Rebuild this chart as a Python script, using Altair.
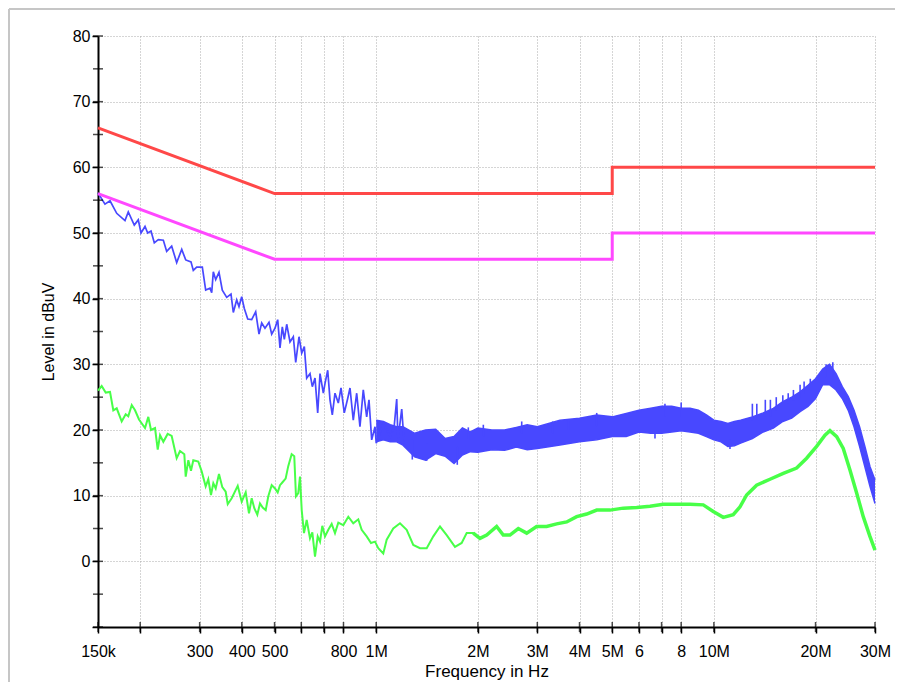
import altair as alt
import pandas as pd

# ---------------- data (frequency in MHz, level in dBuV) ----------------
# Peak trace (blue), 150 kHz .. ~1.2 MHz, read point by point
peak_freq = [0.150, 0.1573, 0.1628, 0.1704, 0.1803, 0.1844, 0.1921, 0.1974, 0.2011, 0.2067,
             0.2105, 0.2153, 0.2202, 0.2263, 0.2342, 0.2396, 0.2479, 0.2565, 0.2655, 0.2728,
             0.2828, 0.2873, 0.2940, 0.3055, 0.3126, 0.3220, 0.3257, 0.3293, 0.3347, 0.3423,
             0.3501, 0.3608, 0.3715, 0.3774, 0.3862, 0.3923, 0.3996, 0.4068, 0.4164, 0.4278,
             0.4396, 0.4497, 0.4580, 0.4684, 0.4814, 0.4903, 0.5015, 0.5108, 0.5189, 0.5271,
             0.5344, 0.5432, 0.5555, 0.5682, 0.5776, 0.5907, 0.6017, 0.6125, 0.6225, 0.6367,
             0.6468, 0.6588, 0.6710, 0.6817, 0.6972, 0.7053, 0.7184, 0.7297, 0.7412, 0.7550,
             0.7722, 0.7866, 0.8043, 0.8233, 0.8363, 0.8552, 0.8754, 0.8951, 0.9156, 0.9371,
             0.9519, 0.9696, 0.9918, 1.00, 1.05, 1.10, 1.13, 1.15, 1.16, 1.19, 1.21]
peak_db = [56.1, 54.4, 54.9, 53.0, 51.9, 53.2, 51.2, 52.0, 50.0, 51.0,
           50.0, 50.3, 48.5, 49.0, 48.9, 47.2, 48.0, 45.5, 47.5, 45.9,
           45.6, 44.3, 44.8, 44.8, 41.3, 41.6, 40.9, 44.1, 42.9, 44.0,
           41.3, 40.2, 40.7, 37.9, 39.8, 38.8, 40.3, 38.5, 36.9, 36.8,
           38.0, 34.6, 36.3, 35.5, 36.4, 34.6, 35.5, 36.8, 32.5, 35.7,
           33.8, 36.1, 33.4, 34.2, 30.3, 34.2, 31.7, 32.7, 27.9, 28.6,
           26.6, 27.9, 22.6, 28.6, 25.6, 27.1, 29.1, 24.6, 22.3, 25.6,
           24.1, 26.4, 22.6, 24.8, 26.4, 21.5, 25.6, 20.5, 26.1, 22.0,
           24.6, 18.5, 20.5, 18.0, 21.0, 19.0, 20.5, 24.7, 18.5, 23.2, 18.0]

# Peak trace (blue) above 1 MHz: dense noise band, upper and lower edges
band_freq = [1.0, 1.05, 1.1, 1.15, 1.2, 1.3, 1.4, 1.5, 1.6, 1.7, 1.8, 1.9, 2.0, 2.2, 2.4,
             2.6, 2.8, 3.0, 3.5, 4.0, 4.5, 5.0, 5.5, 6.0, 6.5, 7.0, 7.5, 8.0, 8.5, 9.0,
             9.5, 10, 10.5, 11, 11.5, 12, 13, 14, 15, 16, 17, 18, 19, 20, 21, 22, 23,
             24, 25, 26, 27, 28, 29, 30]
band_hi = [21.5, 21.3, 20.8, 20.5, 20.5, 19.5, 20.0, 20.1, 18.7, 19.0, 20.3, 19.7, 20.3, 20.0, 20.0,
           20.4, 20.8, 20.5, 21.5, 21.8, 22.3, 22.0, 22.5, 23.0, 23.3, 23.6, 23.6, 23.3, 23.3, 23.0,
           22.3, 21.5, 21.3, 21.0, 21.3, 21.5, 22.0, 22.6, 23.3, 24.3, 25.0, 25.8, 26.8, 27.8, 29.3,
           30.0, 28.6, 26.6, 25.1, 23.0, 20.5, 17.5, 14.4, 12.4]
band_lo = [18.2, 18.5, 18.2, 18.2, 17.7, 15.9, 15.4, 16.4, 16.0, 14.9, 16.2, 16.7, 16.6, 17.0, 16.9,
           17.4, 17.0, 17.2, 17.7, 18.2, 18.5, 19.0, 19.0, 19.7, 19.5, 19.5, 19.7, 19.9, 19.7, 19.5,
           19.0, 18.5, 18.2, 17.5, 17.6, 18.0, 18.7, 19.7, 20.3, 21.3, 21.8, 22.8, 23.6, 24.8, 26.9,
           26.9, 26.1, 24.8, 23.0, 20.5, 17.5, 14.4, 11.4, 8.8]

# Single noise spikes that stick out of the band: frequency, start level, end level
spike_freq = [1.279, 1.411, 1.738, 1.874, 2.076, 2.697, 3.332, 3.705, 4.498, 6.692,
              7.163, 8.0, 11.16, 13.0, 13.4, 14.2, 14.7, 15.3, 16.0, 16.6,
              17.2, 18.0, 18.5, 19.3, 21.5, 22.5]
spike_from = [18.5, 18.0, 17.5, 18.5, 19.0, 19.5, 19.5, 20.0, 20.5, 20.0,
              22.0, 22.0, 18.5, 21.5, 21.5, 22.0, 22.0, 23.0, 23.5, 24.0,
              24.5, 25.0, 25.5, 26.0, 28.0, 28.0]
spike_to = [15.5, 15.3, 14.7, 20.4, 20.8, 21.3, 21.3, 21.5, 22.6, 18.7,
            24.0, 24.2, 17.1, 24.0, 24.0, 24.6, 24.6, 25.0, 25.3, 25.6,
            26.1, 26.9, 27.4, 27.8, 30.0, 30.3]

# Average trace (green)
avg_freq = [0.150, 0.1538, 0.1581, 0.1628, 0.1665, 0.1704, 0.1763, 0.1812, 0.1844, 0.1888,
            0.1931, 0.1984, 0.2067, 0.2114, 0.2153, 0.2213, 0.2254, 0.2290, 0.2342, 0.2412,
            0.2479, 0.2565, 0.2624, 0.2702, 0.2728, 0.2777, 0.2828, 0.2873, 0.2972, 0.3042,
            0.3126, 0.3182, 0.3241, 0.3293, 0.3347, 0.3423, 0.3501, 0.3583, 0.3633, 0.3733,
            0.3889, 0.3996, 0.4107, 0.4200, 0.4278, 0.4355, 0.4445, 0.4527, 0.4611, 0.4707,
            0.4791, 0.4903, 0.5015, 0.5108, 0.5189, 0.5271, 0.5392, 0.5489, 0.5618, 0.5719,
            0.5786, 0.5877, 0.5946, 0.6017, 0.6111, 0.6225, 0.6367, 0.6468, 0.6588, 0.6710,
            0.6817, 0.6924, 0.7053, 0.7213, 0.7381, 0.7550, 0.7722, 0.7991, 0.8267, 0.8552,
            0.8849, 0.9057, 0.9371, 0.9650, 0.9918, 1.0141, 1.0493, 1.0740, 1.1233, 1.1760,
            1.2308, 1.2876, 1.348, 1.411, 1.476, 1.545, 1.617, 1.711, 1.791, 1.853,
            1.938, 2.029, 2.124, 2.273, 2.378, 2.489, 2.635, 2.790, 2.986, 3.196,
            3.423, 3.665, 3.923, 4.200, 4.498, 4.923, 5.390, 5.906, 6.468, 7.081,
            7.755, 8.493, 9.301, 9.956, 10.66, 11.41, 11.95, 12.50, 13.38, 14.66,
            16.05, 17.58, 18.82, 20.15, 21.33, 22.07, 23.10, 24.16, 25.29, 26.47,
            27.69, 28.98, 30.0]
avg_db = [26.0, 26.7, 25.7, 25.8, 23.0, 23.3, 21.3, 22.4, 22.1, 23.8,
          23.0, 21.6, 20.3, 22.0, 20.0, 20.3, 17.0, 19.2, 18.2, 19.4,
          19.1, 15.7, 16.8, 16.3, 12.9, 15.4, 13.8, 15.4, 15.2, 13.7,
          11.4, 12.5, 10.1, 11.9, 11.1, 13.3, 11.3, 10.6, 8.7, 9.6,
          11.5, 9.1, 10.5, 7.3, 9.6, 8.1, 7.1, 8.8, 8.2, 7.8,
          9.9, 11.6, 11.1, 10.5, 11.6, 12.0, 12.6, 14.5, 16.3, 16.0,
          9.9, 10.4, 12.9, 7.8, 4.3, 6.3, 3.5, 4.4, 0.7, 3.8,
          3.0, 5.4, 3.8, 4.8, 5.7, 4.3, 5.9, 5.5, 6.8, 5.8,
          6.4, 4.8, 3.8, 2.8, 3.0, 2.0, 1.2, 3.3, 5.0, 5.8,
          4.8, 2.5, 2.0, 2.0, 3.8, 5.3, 4.0, 2.2, 2.8, 4.3,
          4.3, 3.5, 4.0, 5.3, 4.0, 4.0, 5.0, 4.3, 5.3, 5.3,
          5.7, 6.0, 6.8, 7.2, 7.8, 7.8, 8.1, 8.2, 8.4, 8.7,
          8.7, 8.7, 8.6, 7.6, 6.7, 7.1, 8.3, 10.1, 11.6, 12.5,
          13.4, 14.2, 15.7, 17.5, 19.2, 19.9, 19.0, 17.2, 13.9, 10.4,
          6.8, 3.8, 1.7]

# Limit lines: quasi-peak (red) and average (magenta)
qp_freq = [0.15, 0.5, 5.0, 5.0, 30.0]
qp_db = [66, 56, 56, 60, 60]
av_freq = [0.15, 0.5, 5.0, 5.0, 30.0]
av_db = [56, 46, 46, 50, 50]

# Axis ticks and labels
x_ticks = [0.15, 0.2, 0.3, 0.4, 0.5, 0.6, 0.7, 0.8, 1, 2, 3, 4, 5, 6, 7, 8, 10, 20, 30]
x_labels = ["150k", "", "300", "400", "500", "", "", "800", "1M", "2M", "3M", "4M", "5M",
            "6", "", "8", "10M", "20M", "30M"]
y_ticks = list(range(-10, 81, 5))

# ---------------- chart ----------------
FONT = "Liberation Sans"
W, H = 777, 591
GRID = "#ababab"

label_expr = ""
for v, l in zip(x_ticks, x_labels):
    label_expr += f"datum.value == {v} ? '{l}' : "
label_expr += "''"

xscale = alt.Scale(type="log", domain=[0.15, 30], nice=False)
yscale = alt.Scale(domain=[-10, 80], nice=False)

xaxis = alt.Axis(values=x_ticks, labelExpr=label_expr, title="Frequency in Hz",
                 grid=True, gridDash=[1, 2], gridColor=GRID, gridWidth=1,
                 domainColor="black", domainWidth=2, tickColor="black", tickWidth=1.5,
                 tickSize=6, labelFont=FONT, labelFontSize=16, labelColor="black",
                 labelPadding=10, titleFont=FONT, titleFontSize=17, titleFontWeight="normal",
                 titleColor="black", titlePadding=4, labelFlush=False, labelOverlap=False)
yaxis = alt.Axis(values=y_ticks,
                 labelExpr="datum.value >= 0 && datum.value % 10 == 0 ? datum.value : ''",
                 title="Level in dBuV", grid=True, gridDash=[1, 2], gridColor=GRID,
                 gridWidth=1, domainColor="black", domainWidth=2, tickColor="black",
                 tickWidth=1.5, tickSize=6, labelFont=FONT, labelFontSize=16,
                 labelColor="black", labelPadding=2, titleFont=FONT, titleFontSize=16,
                 titleFontWeight="normal", titleColor="black", titlePadding=16,
                 labelOverlap=False)

peak_df = pd.DataFrame({"f": peak_freq, "db": peak_db, "i": range(len(peak_freq))})
band_df = pd.DataFrame({"f": band_freq, "hi": band_hi, "lo": band_lo})
spike_df = pd.DataFrame({"f": spike_freq, "a": spike_from, "b": spike_to})
avg_df = pd.DataFrame({"f": avg_freq, "db": avg_db, "i": range(len(avg_freq))})
avg_lo_df = avg_df[avg_df["f"] <= 2.03]
avg_hi_df = avg_df[avg_df["f"] >= 1.93]
qp_df = pd.DataFrame({"f": qp_freq, "db": qp_db, "i": range(len(qp_freq))})
av_df = pd.DataFrame({"f": av_freq, "db": av_db, "i": range(len(av_freq))})
ytick_df = pd.DataFrame({"v": y_ticks})
xtick_df = pd.DataFrame({"v": x_ticks})

BLUE = "#4848ff"
GREEN = "#48ff48"
RED = "#ff4848"
MAG = "#ff48ff"

band = alt.Chart(band_df).mark_area(color=BLUE, opacity=1,
                                    line={"color": BLUE, "strokeWidth": 1.5}).encode(
    x=alt.X("f:Q", scale=xscale, axis=xaxis),
    y=alt.Y("hi:Q", scale=yscale, axis=yaxis),
    y2="lo:Q",
)
band_lo_line = alt.Chart(band_df).mark_line(color=BLUE, strokeWidth=1.5).encode(
    x=alt.X("f:Q", scale=xscale), y=alt.Y("lo:Q", scale=yscale))
spikes = alt.Chart(spike_df).mark_rule(color=BLUE, strokeWidth=1.6).encode(
    x=alt.X("f:Q", scale=xscale), y=alt.Y("a:Q", scale=yscale), y2="b:Q")

peak = alt.Chart(peak_df).mark_line(color=BLUE, strokeWidth=1.7).encode(
    x=alt.X("f:Q", scale=xscale), y=alt.Y("db:Q", scale=yscale), order="i:Q")

avg_lo = alt.Chart(avg_lo_df).mark_line(color=GREEN, strokeWidth=2).encode(
    x=alt.X("f:Q", scale=xscale), y=alt.Y("db:Q", scale=yscale), order="i:Q")
avg_hi = alt.Chart(avg_hi_df).mark_line(color=GREEN, strokeWidth=3.5).encode(
    x=alt.X("f:Q", scale=xscale), y=alt.Y("db:Q", scale=yscale), order="i:Q")

qp = alt.Chart(qp_df).mark_line(color=RED, strokeWidth=3).encode(
    x=alt.X("f:Q", scale=xscale), y=alt.Y("db:Q", scale=yscale), order="i:Q")
av = alt.Chart(av_df).mark_line(color=MAG, strokeWidth=3).encode(
    x=alt.X("f:Q", scale=xscale), y=alt.Y("db:Q", scale=yscale), order="i:Q")

# inward half of the crossing axis ticks
ytk = alt.Chart(ytick_df).mark_tick(color="black", thickness=1.5, size=10).encode(
    y=alt.Y("v:Q", scale=yscale), x=alt.value(0))
xtk = alt.Chart(xtick_df).mark_tick(color="black", thickness=1.5, size=10).encode(
    x=alt.X("v:Q", scale=xscale), y=alt.value(H))

# light window frame (top and left edges)
frame_df = pd.DataFrame({"k": [0]})
frame_top = alt.Chart(frame_df).mark_rule(color="#c6c6c6", strokeWidth=2).encode(
    x=alt.value(-89), x2=alt.value(W + 20), y=alt.value(-27))
frame_left = alt.Chart(frame_df).mark_rule(color="#c6c6c6", strokeWidth=2).encode(
    x=alt.value(-89), y=alt.value(-27), y2=alt.value(H + 55))

chart = alt.layer(band, band_lo_line, spikes, peak, avg_lo, avg_hi, av, qp, ytk, xtk,
                  frame_top, frame_left).properties(
    width=W, height=H,
    autosize=alt.AutoSizeParams(type="none"),
    padding={"left": 90, "top": 28, "right": 20, "bottom": 55},
    background="white",
).configure_view(stroke=None).configure_axis(labelFont=FONT, titleFont=FONT)

chart.save("out.html", embed_options={"renderer": "svg", "actions": False})
